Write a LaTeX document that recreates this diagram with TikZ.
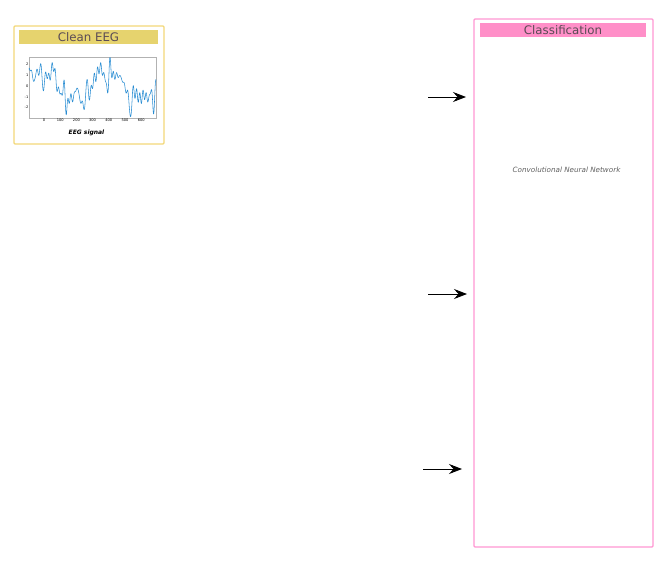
\documentclass[tikz,border=0pt]{standalone}
\usepackage{fontspec}
\setmainfont{DejaVu Sans}
\definecolor{eegyellow}{RGB}{242, 215, 120}
\definecolor{eeggold}{RGB}{230, 211, 110}
\definecolor{clspink}{RGB}{255, 150, 210}
\definecolor{clsbar}{RGB}{255, 143, 200}
\definecolor{titlegray}{RGB}{90, 75, 85}
\definecolor{sigblue}{RGB}{40, 140, 210}
\usetikzlibrary{arrows.meta, positioning, calc}
\tikzset{
    panel/.style={draw, rectangle, rounded corners=1pt, line width=1.1pt},
    titlebar/.style={rectangle, inner sep=0pt, text=titlegray, font=\fontsize{11.8}{13}\selectfont},
    ticklabel/.style={font=\fontsize{3.6}{4}\selectfont, inner sep=0.5pt},
    feedarrow/.style={-{Stealth[length=13pt, width=10pt, inset=4.5pt]}, line width=0.9pt, draw=black},
    annotation/.style={font=\fontsize{7.2}{8}\selectfont\itshape, text=gray!75!black},
}

\begin{document}
\begin{tikzpicture}[x=1pt, y=-1pt]
    \useasboundingbox (0,0) rectangle (664,576);

    % Clean EEG panel
    \node[panel, draw=eegyellow, minimum width=150pt, minimum height=118pt] (eeg) at (89, 85) {};
    \node[titlebar, fill=eeggold, minimum width=139pt, minimum height=14pt] (eegtitle) at (88.5, 37) {Clean EEG};

    % signal plot
    \node[draw=gray!60, very thin, rectangle, inner sep=0pt, minimum width=127pt, minimum height=61pt] (axes) at (92.5, 87.5) {};
    \begin{scope}
        \clip (axes.south west) rectangle (axes.north east);
        \draw[sigblue, line width=0.55pt, line join=round] plot[domain=0:805, samples=700]
            ({44 + 0.162*(\x - 95)}, {86 - 10.7*( -1.3*cos(0.9*\x - 256.5) + 0.55*sin(2.7*\x + 30) + 0.45*sin(4.9*\x + 100) + 0.4*sin(7.3*\x) + 0.35*sin(10.1*\x + 40) + 0.3*sin(12.7*\x + 200) + 0.28*sin(15.3*\x + 10) + 0.25*sin(17.9*\x + 70) + 0.2*sin(19.3*\x + 150) )});
    \end{scope}
    \foreach \v/\lab in {2/2, 1/1, 0/0, -1/-1, -2/-2} {
        \node[ticklabel, anchor=east] at (29, 86 - 10.7*\v) {\lab};
    }
    \foreach \t in {0, 100, 200, 300, 400, 500, 600} {
        \node[ticklabel, anchor=north] at (44 + 0.162*\t, 118.5) {\t};
    }
    \node[font=\fontsize{6}{7}\selectfont\bfseries\itshape] (eeglabel) at (86.5, 133) {EEG signal};

    % Classification panel
    \node[panel, draw=clspink, minimum width=179pt, minimum height=528pt] (cls) at (563.5, 283) {};
    \node[titlebar, fill=clsbar, minimum width=166pt, minimum height=14pt] (clstitle) at (563, 30) {Classification};
    \node[annotation] (cnn) at (566.5, 170) {Convolutional Neural Network};

    % Arrows
    \coordinate (in1) at (428, 97);
    \coordinate (out1) at (466, 97);
    \coordinate (in2) at (428, 294);
    \coordinate (out2) at (467, 294);
    \coordinate (in3) at (423, 469);
    \coordinate (out3) at (462, 469);
    \draw[feedarrow] (in1) -- (out1);
    \draw[feedarrow] (in2) -- (out2);
    \draw[feedarrow] (in3) -- (out3);
\end{tikzpicture}
\end{document}
